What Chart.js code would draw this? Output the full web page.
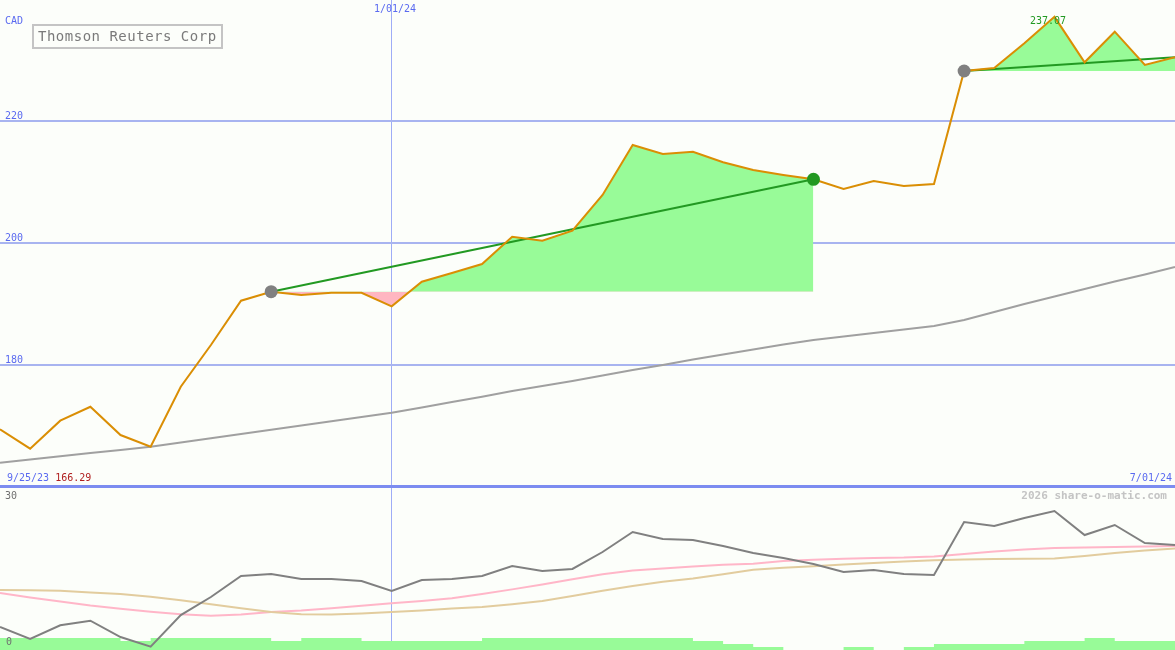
<!DOCTYPE html>
<html>
<head>
<meta charset="utf-8">
<script src="https://cdn.jsdelivr.net/npm/chart.js@4.4.1/dist/chart.umd.min.js"></script>
<style>
  html, body { margin: 0; padding: 0; background: #fcfefa; }
  #wrap { position: relative; width: 1175px; height: 650px; overflow: hidden; background: #fcfefa; }
  canvas { position: absolute; left: 0; }
  .lbl { position: absolute; font-family: "DejaVu Sans Mono", monospace; font-size: 10px; line-height: 10px; white-space: pre; color: #5a6af0; }
  #sep { position: absolute; left: 0; top: 485px; width: 1175px; height: 3px; background: #7c8cf0; }
  #title { position: absolute; left: 32px; top: 24px; width: 183px; height: 21px; border: 2px solid #c4c4c4;
           font-family: "DejaVu Sans Mono", monospace; font-size: 14px; line-height: 21px; letter-spacing: 0.5px;
           color: #7a7a7a; padding-left: 4px; box-sizing: content-box; white-space: pre; }
</style>
</head>
<body>
<div id="wrap">
  <canvas id="priceChart" width="1175" height="487" style="top:0"></canvas>
  <canvas id="indChart" width="1175" height="162" style="top:488px"></canvas>
  <div id="sep"></div>
  <div id="title">Thomson Reuters Corp</div>
  <div class="lbl" style="left:5px;top:16px">CAD</div>
  <div class="lbl" style="left:5px;top:111px">220</div>
  <div class="lbl" style="left:5px;top:233px">200</div>
  <div class="lbl" style="left:5px;top:355px">180</div>
  <div class="lbl" style="left:374px;top:4px">1/01/24</div>
  <div class="lbl" style="left:1030px;top:16px;color:#229922">237.07</div>
  <div class="lbl" style="left:7px;top:473px">9/25/23 <span style="color:#b02020">166.29</span></div>
  <div class="lbl" style="right:3px;top:473px">7/01/24</div>
  <div class="lbl" style="right:8px;top:490px;font-size:11px;line-height:11px;font-weight:bold;color:#c4c4c4">2026 share-o-matic.com</div>
  <div class="lbl" style="left:5px;top:491px;color:#707070">30</div>
  <div class="lbl" style="left:6px;top:637px;color:#707070">0</div>
</div>
<script>
// weekly closes, Thomson Reuters Corp (CAD)
const weeks = [
  "9/25/23", "10/02/23", "10/09/23", "10/16/23", "10/23/23", "10/30/23", "11/06/23", "11/13/23",
  "11/20/23", "11/27/23", "12/04/23", "12/11/23", "12/18/23", "1/01/24", "1/08/24", "1/15/24",
  "1/22/24", "1/29/24", "2/05/24", "2/12/24", "2/19/24", "2/26/24", "3/04/24", "3/11/24",
  "3/18/24", "3/25/24", "4/01/24", "4/08/24", "4/15/24", "4/22/24", "4/29/24", "5/06/24",
  "5/13/24", "5/20/24", "5/27/24", "6/03/24", "6/10/24", "6/17/24", "6/24/24", "7/01/24"
];

const closes = [
  169.46, 166.29, 170.87, 173.16, 168.52, 166.61, 176.44, 183.28, 190.54, 192.02,
  191.48, 191.85, 191.85, 189.62, 193.66, 195.08, 196.56, 201.03, 200.38, 202.02,
  207.87, 216.07, 214.59, 214.97, 213.23, 211.97, 211.15, 210.44, 208.85, 210.16,
  209.34, 209.67, 228.20, 228.69, 232.74, 237.07, 229.62, 234.64, 229.18, 230.44
];

const avgLine = [
  163.98, 164.51, 165.03, 165.56, 166.08, 166.61, 167.30, 168.00, 168.69, 169.39,
  170.08, 170.79, 171.48, 172.18, 173.03, 173.93, 174.80, 175.74, 176.56, 177.38,
  178.28, 179.18, 180.00, 180.90, 181.72, 182.54, 183.36, 184.10, 184.67, 185.25,
  185.82, 186.39, 187.38, 188.69, 190.00, 191.23, 192.46, 193.69, 194.84, 196.07
];

// trend legs: [start index, end index]
const legs = [[9, 27], [32, 39]];
const legColors = ["#808080", "#229922"]; // start dot, end dot

// lower panel
const strength = [
  4.11, 1.64, 4.46, 5.40, 2.05, 0.07, 6.57, 10.27, 14.59, 15.00,
  13.97, 13.97, 13.56, 11.50, 13.77, 13.97, 14.59, 16.64, 15.62, 16.03,
  19.52, 23.63, 22.19, 21.98, 20.75, 19.31, 18.29, 17.05, 15.41, 15.82,
  15.00, 14.79, 25.68, 24.86, 26.50, 27.94, 23.01, 25.07, 21.37, 20.96
];
const pinkLine = [
  11.10, 10.19, 9.37, 8.53, 7.87, 7.25, 6.72, 6.43, 6.66, 7.19,
  7.48, 7.95, 8.47, 8.98, 9.45, 10.00, 10.91, 11.84, 12.82, 13.91,
  14.96, 15.72, 16.11, 16.52, 16.91, 17.09, 17.67, 17.92, 18.12, 18.29,
  18.37, 18.59, 19.11, 19.62, 20.03, 20.34, 20.44, 20.55, 20.65, 20.75
];
const tanLine = [
  11.71, 11.65, 11.57, 11.18, 10.89, 10.33, 9.62, 8.79, 7.95, 7.19,
  6.72, 6.66, 6.88, 7.19, 7.50, 7.89, 8.22, 8.77, 9.45, 10.48,
  11.57, 12.53, 13.40, 14.07, 14.96, 15.86, 16.29, 16.60, 16.95, 17.26,
  17.57, 17.83, 17.98, 18.08, 18.14, 18.20, 18.70, 19.31, 19.83, 20.24
];
const barLevels = [
  4, 4, 4, 4, 3, 4, 4, 4, 4, 3,
  4, 4, 3, 3, 3, 3, 4, 4, 4, 4,
  4, 4, 4, 3, 2, 1, 0, 0, 1, 0,
  1, 2, 2, 2, 3, 3, 4, 3, 3, 3
];

const priceTicks = [180, 200, 220];
const markWeek = "1/01/24";

Chart.defaults.animation = false;
Chart.defaults.font.family = "DejaVu Sans Mono";

const onlyRange = (arr, a, b) => arr.map((v, i) => (i >= a && i <= b ? v : null));
const onlyEnds = (arr, a, b) => arr.map((v, i) => (i === a || i === b ? v : null));

const legSets = [];
legs.forEach(([a, b]) => {
  legSets.push({
    data: onlyEnds(closes, a, b),
    borderColor: "#229922",
    borderWidth: 2,
    pointRadius: 0,
    spanGaps: true,
    order: 2
  });
  legSets.push({
    data: onlyRange(closes, a, b),
    borderColor: "transparent",
    borderWidth: 0,
    pointRadius: 0,
    fill: { target: { value: closes[a] }, above: "#98fb98", below: "#ffb6c1" },
    order: 6
  });
});

// dots at leg starts / ends
const dotData = closes.map(() => null);
const dotColor = closes.map(() => "transparent");
legs.forEach(([a, b], k) => {
  dotData[a] = closes[a];
  dotColor[a] = legColors[0];
  if (k === 0) {
    dotData[b] = closes[b];
    dotColor[b] = legColors[1];
  }
});

const xGrid = {
  display: true,
  ticks: { display: false },
  border: { display: false },
  grid: {
    drawTicks: false,
    lineWidth: 1,
    color: (c) => (c.tick && weeks[c.tick.value] === markWeek ? "#9eacf6" : "transparent")
  }
};

new Chart(document.getElementById("priceChart"), {
  type: "line",
  data: {
    labels: weeks,
    datasets: [
      {
        data: dotData,
        showLine: false,
        pointRadius: 6.5,
        pointHoverRadius: 6.5,
        pointBorderWidth: 0,
        pointBackgroundColor: dotColor,
        order: 0
      },
      {
        data: closes,
        borderColor: "#da8e04",
        borderWidth: 2,
        pointRadius: 0,
        tension: 0,
        order: 1
      },
      ...legSets,
      {
        data: avgLine,
        borderColor: "#a0a0a0",
        borderWidth: 2,
        pointRadius: 0,
        order: 4
      }
    ]
  },
  options: {
    responsive: false,
    devicePixelRatio: 1,
    layout: { padding: 0, autoPadding: false },
    plugins: { legend: { display: false }, tooltip: { enabled: false } },
    scales: {
      x: xGrid,
      y: {
        min: 160,
        max: 160 + 487 / 6.1,
        ticks: { display: false },
        border: { display: false },
        afterBuildTicks: (s) => { s.ticks = priceTicks.map((v) => ({ value: v })); },
        grid: { drawTicks: false, lineWidth: 2, color: "#a8b4f0" }
      }
    }
  }
});

new Chart(document.getElementById("indChart"), {
  type: "line",
  data: {
    labels: weeks,
    datasets: [
      { data: strength, borderColor: "#808080", borderWidth: 2, pointRadius: 0, yAxisID: "y", order: 1 },
      { data: pinkLine, borderColor: "#ffb6c8", borderWidth: 2, pointRadius: 0, yAxisID: "y", order: 3 },
      { data: tanLine, borderColor: "#e2cc9e", borderWidth: 2, pointRadius: 0, yAxisID: "y", order: 2 },
      {
        data: barLevels,
        stepped: true,
        borderColor: "transparent",
        borderWidth: 0,
        pointRadius: 0,
        backgroundColor: "#98fb98",
        fill: "origin",
        yAxisID: "y2",
        order: 5
      }
    ]
  },
  options: {
    responsive: false,
    devicePixelRatio: 1,
    layout: { padding: 0, autoPadding: false },
    plugins: { legend: { display: false }, tooltip: { enabled: false } },
    scales: {
      x: xGrid,
      y: { display: false, min: -3 / 4.867, max: 30 + 13 / 4.867 },
      y2: { display: false, min: 0, max: 54 }
    }
  }
});
</script>
</body>
</html>
